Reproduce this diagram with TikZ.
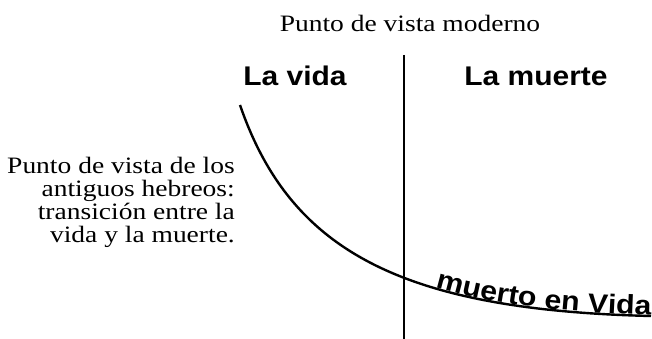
\documentclass[tikz,border=0pt]{standalone}
\usepackage{fontspec}
\usetikzlibrary{decorations.text}
\newfontfamily\serifA[FakeStretch=1.17]{Liberation Serif}
\newfontfamily\sansA[FakeStretch=1.11]{Liberation Sans}
\newfontfamily\sansB[FakeStretch=1.12]{Liberation Sans}
\begin{document}
\begin{tikzpicture}[x=1pt,y=-1pt,
  serif/.style={font=\serifA\fontsize{23.5}{23}\selectfont, inner sep=0pt},
  head/.style={font=\sansA\bfseries\fontsize{27}{30}\selectfont, inner sep=0pt},
  curveline/.style={line width=2.4pt},
  divider/.style={line width=2pt}]
\useasboundingbox (0,0) rectangle (652,339);
\node[serif, anchor=base] (title) at (410,32) {Punto de vista moderno};
\node[head, anchor=base] (vida) at (295,86) {La vida};
\node[head, anchor=base] (muerte) at (536,86) {La muerte};
\coordinate (top) at (404,55);
\coordinate (bottom) at (404,339);
\draw[divider] (top) -- (bottom);
\coordinate (start) at (240,105);
\coordinate (end) at (651,316);
\draw[curveline] (start) .. controls (290,250) and (400,310) .. (end);
\path[decorate, decoration={text along path, text={|\sansB\bfseries\fontsize{27}{30}\selectfont|muerto en Vida}, text align=right, raise=1pt}] (start) .. controls (290,250) and (400,310) .. (end);
\node[serif, align=right, anchor=north east] (hebreos) at (235,157) {Punto de vista de los\\antiguos hebreos:\\transición entre la\\vida y la muerte.};
\end{tikzpicture}
\end{document}
